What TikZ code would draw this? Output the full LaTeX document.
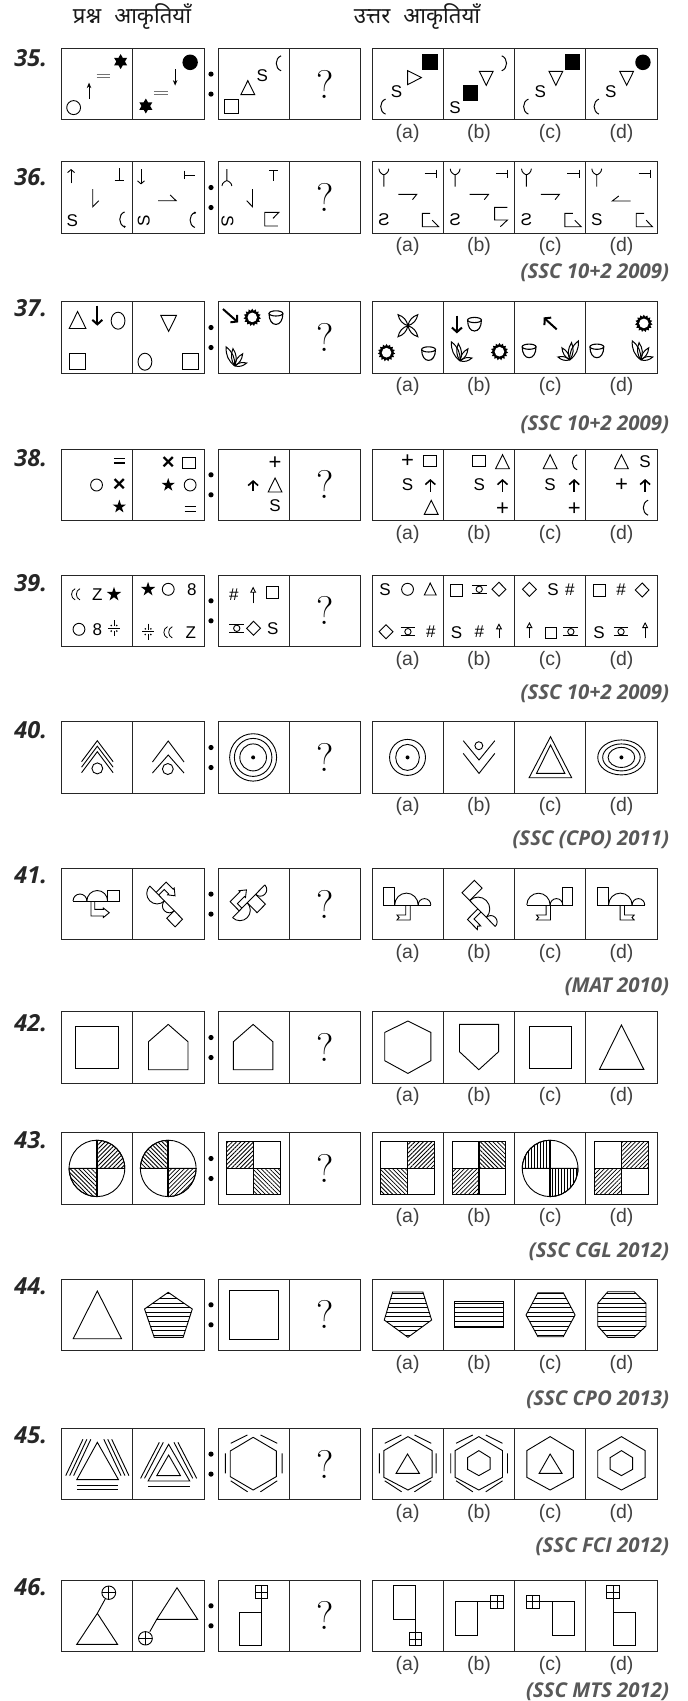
\documentclass[tikz,border=0pt]{standalone}
\usepackage{fontspec}
\usepackage{xcolor}
\usepackage{tikz}
\usetikzlibrary{shapes.geometric,arrows.meta,positioning,calc,patterns.meta}
\newfontfamily\hindifont[Script=Devanagari]{Noto Sans}
\newfontfamily\sansfont{Liberation Sans}
\newfontfamily\numfont{Open Sans}
\newcounter{glc}
\newcommand{\gl}[4][]{\stepcounter{glc}\node[glyph,#1] (g\arabic{glc}) at (#2,#3) {#4};}
\newcommand{\bsym}[3]{\gl{#1}{#2}{\fontsize{22}{22}\selectfont\bfseries #3}}
\newcommand{\psym}[3]{\gl{#1}{#2}{\fontsize{22}{22}\selectfont #3}}
\newcommand{\starf}[4]{\stepcounter{glc}\node[starmark,star#3,minimum size=#4pt] (g\arabic{glc}) at (#1,#2) {};}
\newcommand{\sunf}[2]{\stepcounter{glc}\node[sunmark] (g\arabic{glc}) at (#1,#2) {};\fill[white] (#1,#2) circle[radius=4.8pt];}
\newcommand{\incell}[2]{\begin{scope}[shift={(#1.north west)},xscale=.987]#2\end{scope}}
\newcommand{\tri}[4][]{\draw[shift={(#2,#3)},#1] ({-#4/2},{#4/2})--(0,{-#4/2})--({#4/2},{#4/2})--cycle;}
\newcommand{\sq}[5][]{\draw[#1] ({#2-#4/2},{#3-#5/2}) rectangle ++(#4,#5);}
\newcommand{\diam}[3]{\draw ({#1-#3/2},#2)--(#1,{#2-#3/2})--({#1+#3/2},#2)--(#1,{#2+#3/2})--cycle;}
\newcommand{\ring}[5][]{\draw[#1] (#2,#3) ellipse[x radius=#4pt,y radius=#5pt];}
\newcommand{\dotm}[2]{\fill (#1,#2) circle[radius=2pt];}
\newcommand{\eqm}[4]{\draw ({#1-#3/2},{#2-#4/2})--({#1+#3/2},{#2-#4/2}) ({#1-#3/2},{#2+#4/2})--({#1+#3/2},{#2+#4/2});}
\newcommand{\cres}[3][]{\draw[shift={(#2,#3)},line width=1pt,#1] (3,-7.5) .. controls (-3.5,-5) and (-3.5,5) .. (3,7.5);}
\newcommand{\dblcres}[2]{\begin{scope}[shift={(#1,#2)},scale=.75]\cres[line width=.8pt]{-4}{0}\cres[line width=.8pt]{2.5}{0}\end{scope}}
\newcommand{\bobb}[2]{\draw ({#1-7.5},{#2-4})--({#1+7.5},{#2-4}) ({#1-7.5},{#2+4})--({#1+7.5},{#2+4});\ring{#1}{#2}{3.2}{3.2}}
\newcommand{\snowf}[2]{\draw ({#1-6},#2)--({#1+6},#2) (#1,{#2-8})--(#1,{#2-2.2}) (#1,{#2+2.2})--(#1,{#2+8});\foreach \dx/\dy in {-2.8/-2.8,2.8/-2.8,-2.8/2.8,2.8/2.8}{\fill ({#1+\dx},{#2+\dy}) circle[radius=.9pt];}}
\newcommand{\bowl}[2]{\draw[shift={(#1,#2)},line width=1.1pt] (-7,-4) .. controls (-7,3) and (-4,7) .. (0,7) .. controls (4,7) and (7,3) .. (7,-4);\ring[line width=1.1pt]{#1}{#2-4}{7}{2.6}}
\newcommand{\plant}[3][]{\begin{scope}[shift={(#2,#3)},scale=1.15,#1]\foreach \tx/\ty in {-7.5/-16.5,-1.5/-15,7/-10.5,10.5/-2.5}{\draw[line width=1pt] (0,8) to[bend left=28] (\tx,8+\ty) to[bend left=28] (0,8);}\end{scope}}
\newcommand{\crossleaf}[2]{\foreach \tx/\ty in {-10/-11,10/-11,-10/11,10/11}{\draw[line width=1pt,shift={(#1,#2)}] (0,0) to[bend left=30] (\tx,\ty) to[bend left=30] (0,0);}}
\newcommand{\ytop}[1]{\draw (#1,25)--(#1,13) ({#1-5},7) .. controls ({#1-5},11) and ({#1-1},13) .. (#1,13) .. controls ({#1+1},13) and ({#1+5},11) .. ({#1+5},7);}
\newcommand{\tdash}{\draw (53.3,11.7)--(65.3,11.7) (65.3,8)--(65.3,16);}
\newcommand{\flaga}{\draw (59,51.7)--(51,51.7)--(51,65)--(67.5,65)--(61,58.5);}
\newcommand{\semi}[2]{\draw (#1,0) arc[start angle=180,end angle=0,radius=#2pt];}
\newcommand{\linkarw}[3]{\draw (#1,0)--(#1,#3)--({#1+#2-6},#3)--({#1+#2-6},{#3+1.5})--({#1+#2},{#3-3.3})--({#1+#2-6},{#3-8})--({#1+#2-6},{#3-6.6})--({#1+3.8},{#3-6.6})--({#1+3.8},0);}
\newcommand{\ribb}[4]{\draw (#1,0)--(#1,15)--(#3,15)--(#4,12.5)--(#3,10)--(#2,10)--(#2,0);}
\newcommand{\perch}{\draw (0,0)--(47.6,0) (0,0) rectangle (11,-17.7);\semi{11}{11.9}\semi{34.8}{6.4}}
\newcommand{\cqd}[4]{\draw[#4] (#1,#2) -- ++(#3:28.2pt) arc[start angle=#3,end angle=#3+90,radius=28.2pt] -- cycle;}
\newcommand{\roundq}[4]{\ring{36}{35.7}{28.2}{28.2}\cqd{36}{35.7}{#1}{#2}\cqd{36}{35.7}{#3}{#4}\draw[line width=1.6pt] (7.8,35.7)--(64.2,35.7) (36,7.5)--(36,63.9);}
\newcommand{\squareq}[5]{\begin{scope}[xshift=#5pt]\path[#1] (9,9) rectangle (36,35.7);\path[#2] (36,9) rectangle (63,35.7);\path[#3] (9,35.7) rectangle (36,62);\path[#4] (36,35.7) rectangle (63,62);\draw (9,9) rectangle (63,62);\draw[line width=1.6pt] (9,35.7)--(63,35.7) (36,9)--(36,62);\end{scope}}
\newcommand{\stripes}[1]{\begin{scope}\clip #1;\foreach \yy in {1,5.6,...,71}{\draw (0,\yy)--(72,\yy);}\end{scope}\draw #1;}
\newcommand{\hexa}[3]{\draw ({(#1+#2)/2},8.3)--(#2,22.3)--(#2,49)--({(#1+#2)/2},61.7)--(#1,49)--(#1,22.3)--cycle;}
\newcommand{\hexlines}{\draw (12.9,15)--(29.8,6.7) (43.1,6.7)--(60,15) (65,25)--(65,45) (7.5,25)--(7.5,45) (12.9,52.5)--(30,63.5) (43,63.5)--(60,52.5);}
\newcommand{\hexin}[1]{\draw (#1,22.3)--({#1+11.4},29.3)--({#1+11.4},41)--(#1,47.3)--({#1-11.4},41)--({#1-11.4},29.3)--cycle;}
\newcommand{\gridsq}[2]{\sq{#1}{#2}{13}{13}\draw ({#1-6.5},#2)--({#1+6.5},#2) (#1,{#2-6.5})--(#1,{#2+6.5});}
\newcommand{\crossc}[2]{\ring{#1}{#2}{7}{6.7}\draw ({#1-7},#2)--({#1+7},#2) (#1,{#2-6.7})--(#1,{#2+6.7});}
\newcommand{\chev}[4]{\draw ({#1-#3},{#2+#4})--(#1,#2)--({#1+#3},{#2+#4});}
\begin{document}
\begin{tikzpicture}[
  x=1pt,y=-1pt,
  line width=.9pt,
  cellbox/.style={draw=black!85, line width=1pt, minimum width=71.3pt, minimum height=71.6pt,
                  inner sep=0pt, outer sep=0pt, font=\fontsize{40}{40}\selectfont},
  optlab/.style={font=\sansfont\fontsize{19.5}{20}\selectfont, text=black!75, inner sep=0pt},
  qnum/.style={font=\numfont\bfseries\itshape\fontsize{23.5}{24}\selectfont, text=black!85, anchor=west, inner sep=0pt},
  srclab/.style={font=\numfont\bfseries\itshape\fontsize{20.4}{21}\selectfont, text=black!65, anchor=east, inner sep=0pt},
  headlab/.style={font=\hindifont\fontsize{22.2}{24}\selectfont, text=black!90, inner sep=0pt},
  glyph/.style={font=\sansfont\fontsize{17}{17}\selectfont, inner sep=0pt},
  starmark/.style={star, fill, inner sep=0pt},
  star5/.style={star points=5, star point ratio=2.6},
  star6/.style={star points=6, star point ratio=1.73},
  sunmark/.style={star, star points=15, star point ratio=1.3, fill, inner sep=0pt, minimum size=17.5pt},
  thinarw/.style={-{Stealth[length=5.5pt,width=4.5pt]}},
  stickarw/.style={-{Straight Barb[length=3pt,width=7pt]}},
  boldarw/.style={line width=2pt, -{Straight Barb[length=4.5pt,width=10pt]}},
  openarw/.style={-{Triangle[open,length=6pt,width=6pt]}},
  hne/.style={pattern={Lines[angle=45,distance=3pt,line width=.8pt]}},
  hnw/.style={pattern={Lines[angle=-45,distance=3pt,line width=.8pt]}},
  hvt/.style={pattern={Lines[angle=90,distance=3pt,line width=.7pt]}},
  blank/.style={}
]
  \useasboundingbox (0,0) rectangle (688,1701);
  \node[headlab] (headq) at (132,17) {प्रश्न\hspace{13pt}आकृतियाँ};
  \node[headlab] (heada) at (417,17) {उत्तर\hspace{13pt}आकृतियाँ};
  \foreach \n/\ytopv/\ynum in {35/48.3/58.3,36/161.7/176.7,37/301.7/307.7,38/449/458.3,39/575/583,40/721.7/730,
      41/868.3/875,42/1011.7/1023,43/1132.7/1140,44/1279/1286.7,45/1428.3/1435,46/1580/1586.7}{
    \node[cellbox,anchor=north west] (r\n-q1) at (61.4,\ytopv) {};
    \node[cellbox,right=0pt of r\n-q1] (r\n-q2) {};
    \node[cellbox,right=14pt of r\n-q2] (r\n-q3) {};
    \node[cellbox,right=0pt of r\n-q3] (r\n-q4) {?};
    \node[cellbox,right=11.4pt of r\n-q4] (r\n-a) {};
    \node[cellbox,right=0pt of r\n-a] (r\n-b) {};
    \node[cellbox,right=0pt of r\n-b] (r\n-c) {};
    \node[cellbox,right=0pt of r\n-c] (r\n-d) {};
    \foreach \o in {a,b,c,d}{\node[optlab,below=4pt of r\n-\o] (l\n-\o) {(\o)};}
    \node[qnum] (num\n) at (14,\ynum) {\n.};
    \fill ($(r\n-q2.east)!.5!(r\n-q3.west)+(0,-10)$) circle[radius=2.6pt];
    \fill ($(r\n-q2.east)!.5!(r\n-q3.west)+(0,10)$) circle[radius=2.6pt];
  }
  \foreach \n/\y/\t in {36/272.7/{(SSC 10+2 2009)},37/424.3/{(SSC 10+2 2009)},39/693.3/{(SSC 10+2 2009)},
      40/840/{(SSC (CPO) 2011)},41/986.7/{(MAT 2010)},43/1251.7/{(SSC CGL 2012)},44/1400/{(SSC CPO 2013)},
      45/1546.7/{(SSC FCI 2012)},46/1691.7/{(SSC MTS 2012)}}{
    \node[srclab] (src\n) at (669.5,\y) {\t};
  }

  % row 35
  \incell{r35-q1}{\ring{12.4}{59.3}{7}{7}\draw[thinarw] (28,50.7)--(28,34.3);\begin{scope}[black!55]\eqm{42.7}{27.3}{14}{3}\end{scope}\starf{60}{13.3}{6}{15}}
  \incell{r35-q2}{\starf{13.3}{57.7}{6}{15}\begin{scope}[black!55]\eqm{28.4}{44.7}{14}{3}\end{scope}\draw[thinarw] (43,21)--(43,37.3);\fill (58.2,14) circle[radius=7.8pt];}
  \incell{r35-q3}{\sq{13.8}{58}{14}{14}\tri{30.2}{39.3}{14}\gl{45}{27.3}{S}\cres{60.9}{15}}
  \incell{r35-a}{\cres{10.7}{58.3}\gl{24.9}{43.3}{S}\tri[rotate=-90]{43.1}{29.3}{14}\sq[fill]{58.7}{14}{14.5}{15}}
  \incell{r35-b}{\cres[xscale=-1]{62.2}{15}\tri[rotate=180]{43.5}{30}{14}\sq[fill]{27.5}{45}{14.5}{15}\gl{12}{59}{S}}
  \incell{r35-c}{\cres{11}{58.3}\gl{26}{43.3}{S}\tri[rotate=180]{41.8}{30}{14}\sq[fill]{58.7}{14}{14.5}{15}}
  \incell{r35-d}{\cres{10.2}{58.3}\gl{25.3}{43.3}{S}\tri[rotate=180]{41.3}{30}{14}\fill (57.8,14) circle[radius=7.8pt];}

  % row 36
  \incell{r36-q1}{\draw[stickarw] (9.8,21.7)--(9.8,7.3);\draw (58.9,6.7)--(58.9,19) (53.9,19)--(63.9,19);\draw (31.8,27.3)--(31.8,45)--(37.8,39);\gl{11.1}{59.3}{S}\cres{61}{57.7}\fill (64,65) circle[radius=1.2pt];}
  \incell{r36-q2}{\draw[stickarw] (8.4,7.7)--(8.4,22.7);\draw (52.3,9)--(52.3,17.7) (52.3,13.4)--(63,13.4);\draw (25.7,39)--(44,39)--(38,33.3);\gl[rotate=90]{11.3}{59.3}{S}\cres{60}{58.3}\fill (63,51) circle[radius=1.2pt];}
  \incell{r36-q3}{\draw (9,7.3)--(9,19) (4,24.3) .. controls (4,21) and (8,19) .. (9,19) .. controls (10,19) and (14,21) .. (14,24.3);\draw (51.7,8.3)--(60.7,8.3) (56.2,8.3)--(56.2,19);\draw (35,27.3)--(35,45)--(29,39);\gl[rotate=-90]{9.7}{59.3}{S}\draw (55.7,56.7)--(61.7,50.7)--(47.4,50.7)--(47.4,64.3)--(60.7,64.3);}
  \incell{r36-a}{\ytop{12}\tdash\draw (26.7,32.7)--(45.3,32.7)--(41,38);\gl[xscale=-1]{12}{58.3}{S}\flaga}
  \incell{r36-b}{\ytop{12}\tdash\draw (26.7,32.7)--(45.8,32.7)--(41.5,38);\gl[xscale=-1]{12}{58.3}{S}\draw (65,45.7)--(52,45.7)--(52,58.3)--(65,58.3)--(57.8,65);}
  \incell{r36-c}{\ytop{12}\tdash\draw (26.7,32.7)--(45.3,32.7)--(41,38);\gl[xscale=-1]{12}{58.3}{S}\flaga}
  \incell{r36-d}{\ytop{11}\tdash\draw (45.3,39.3)--(26.7,39.3)--(33.3,34.3);\gl{11}{58.3}{S}\flaga}

  % row 37
  \incell{r37-q1}{\tri{16.4}{18.3}{17}\draw[boldarw] (36.4,4)--(36.4,24);\ring{57.4}{19}{7}{8.5}\sq{16.4}{59.7}{16}{16}}
  \incell{r37-q2}{\tri[rotate=180]{36.4}{21.7}{16}\ring{12.4}{60}{7}{8.5}\sq{58.2}{59.7}{16}{16}}
  \incell{r37-q3}{\draw[boldarw] (5,7.3)--(20.4,20.7);\sunf{34.7}{15.7}\bowl{58.7}{15.7}\plant{16.9}{55}}
  \incell{r37-a}{\crossleaf{36.4}{24}\sunf{14.7}{51}\bowl{57.3}{51.7}}
  \incell{r37-b}{\draw[boldarw] (13.8,14)--(13.8,31.7);\bowl{31.6}{22.3}\plant{16.9}{50}\sunf{56.9}{50}}
  \incell{r37-c}{\draw[boldarw] (42.7,27.7)--(29.3,15.7);\bowl{14.7}{49}\plant[xscale=-1]{56}{49}}
  \incell{r37-d}{\sunf{58.7}{21.7}\bowl{11.1}{49}\plant{55.6}{49}}

  % row 38
  \incell{r38-q1}{\begin{scope}[line width=1.1pt]\eqm{58.7}{11.7}{11}{4.5}\end{scope}\ring{35.6}{36}{6}{6}\bsym{58.7}{36}{×}\starf{58.7}{57.7}{5}{14}}
  \incell{r38-q2}{\bsym{36}{13.7}{×}\sq{56.9}{13.7}{13}{11}\starf{36}{36}{5}{14}\ring{58.2}{36}{6}{6}\begin{scope}[line width=1.1pt]\eqm{58.2}{60}{11}{4.5}\end{scope}}
  \incell{r38-q3}{\psym{57.8}{14.3}{+}\draw[boldarw,line width=1.6pt] (35.6,42)--(35.6,31);\tri{57.8}{36}{14}\gl{57.8}{56.7}{S}}
  \incell{r38-a}{\psym{36}{11.7}{+}\sq{59.1}{11.7}{13}{11}\gl{36}{36}{S}\draw[boldarw,line width=1.6pt] (59.1,42.7)--(59.1,30);\tri{60}{58.3}{14}}
  \incell{r38-b}{\sq{36.4}{11.7}{13}{11}\tri{60}{12.7}{14}\gl{36.4}{36}{S}\draw[boldarw,line width=1.6pt] (60,42.7)--(60,30);\psym{60}{60.3}{+}}
  \incell{r38-c}{\tri{36}{12.7}{14}\cres{60.4}{13.3}\gl{36}{36}{S}\draw[boldarw,line width=1.6pt] (60.4,42.7)--(60.4,30);\psym{60.4}{60.3}{+}}
  \incell{r38-d}{\tri{36}{12.7}{14}\gl{60}{12.7}{S}\psym{36}{36}{+}\draw[boldarw,line width=1.6pt] (60,42.7)--(60,30);\cres{60}{58.7}}

  % row 39
  \incell{r39-q1}{\dblcres{14.7}{19.3}\gl{36.4}{19.3}{Z}\starf{53.3}{19.3}{5}{15}\ring{17.8}{54.3}{6}{6}\gl{36.4}{54.3}{8}\snowf{53.3}{53.3}}
  \incell{r39-q2}{\starf{15.6}{14.3}{5}{15}\ring{36}{14.3}{6}{6}\gl{60}{14.3}{8}\snowf{15.6}{56.7}\dblcres{36}{57.3}\gl{59}{57.3}{Z}}
  \incell{r39-q3}{\gl{16}{19.3}{\#}\draw[openarw] (35.6,28.3)--(35.6,11.7);\sq{55}{17.3}{12}{12}\bobb{19}{53.3}\diam{36}{53.3}{14}\gl{55.6}{54}{S}}
  \incell{r39-a}{\gl{13.3}{14.3}{S}\ring{36}{14.3}{6}{6}\tri{59}{14}{12}\diam{14.2}{56.7}{14}\bobb{36.4}{56.7}\gl{59.6}{56.7}{\#}}
  \incell{r39-b}{\sq{13.3}{15}{12}{12}\bobb{36.4}{14.3}\diam{56.4}{14.3}{14}\gl{13.3}{57.3}{S}\gl{36.4}{56.7}{\#}\draw[openarw] (56.4,63.3)--(56.4,48.3);}
  \incell{r39-c}{\diam{15}{14.3}{14}\gl{39}{14.3}{S}\gl{56}{14.3}{\#}\draw[openarw] (15,63)--(15,47);\sq{36.4}{58.3}{11}{11}\bobb{57}{56.7}}
  \incell{r39-d}{\sq{13.3}{15}{12}{12}\gl{35.6}{15}{\#}\diam{57}{15}{14}\gl{13.3}{57.3}{S}\bobb{35.6}{56.7}\draw[openarw] (60,63.3)--(60,47);}

  % row 40
  \incell{r40-q1}{\chev{36.4}{19}{16}{21}\chev{36.4}{24.5}{16}{21}\chev{36.4}{30}{16}{21}\ring{36.4}{46.7}{5.5}{5.5}}
  \incell{r40-q2}{\chev{36}{19.3}{16}{21}\chev{36}{33.3}{16}{18}\ring{35.6}{47.3}{5.5}{5.5}}
  \incell{r40-q3}{\ring{35.6}{35.7}{23.8}{23.7}\ring{35.6}{35.7}{19}{19}\ring{35.6}{35.7}{13.5}{13.5}\dotm{35.6}{35.7}}
  \incell{r40-a}{\ring{36}{35.7}{18.2}{18}\ring{36}{35.7}{12}{13}\dotm{36}{35.7}}
  \incell{r40-b}{\ring{36}{24}{4}{4}\chev{36.2}{38.3}{16}{-19.3}\chev{36.2}{51.7}{16}{-20}}
  \incell{r40-c}{\draw (36.4,15)--(57.8,56)--(14.7,56)--cycle;\draw (36.4,23.3)--(51,51.7)--(22.2,51.7)--cycle;}
  \incell{r40-d}{\ring{36}{35.7}{24}{17.5}\ring{36}{35.7}{19}{13.5}\ring{36}{35.7}{13.5}{10}\dotm{36}{35.7}}

  % row 41
  \incell{r41-q1}{\begin{scope}[shift={(11.8,32.7)}]\draw (0,0)--(46.7,0) (35,0) rectangle (46.7,-10.7);\semi{0}{7}\semi{14}{10.5}\linkarw{18.2}{18.5}{15}\end{scope}}
  \incell{r41-q2}{\begin{scope}[shift={(17.3,17.7)},rotate=-45,yscale=-1]\draw (0,0)--(47,0) (35,0) rectangle (47,-10.7);\semi{0}{10.5}\semi{21}{7}\linkarw{9}{16}{14.5}\end{scope}}
  \incell{r41-q3}{\begin{scope}[shift={(14.8,49.3)},rotate=45,yscale=-1]\draw (0,0)--(46.2,0) (21,0) rectangle (33,-14);\semi{0}{10.5}\semi{33}{6.6}\linkarw{9.5}{20}{13}\end{scope}}
  \incell{r41-a}{\begin{scope}[shift={(12,36.7)}]\perch\ribb{26.7}{22.2}{13.3}{15.5}\end{scope}}
  \incell{r41-b}{\begin{scope}[shift={(19,24.5)},rotate=-45]\perch\ribb{22.7}{27.1}{36.9}{34.7}\end{scope}}
  \incell{r41-c}{\begin{scope}[shift={(12.4,36.7)}]\draw (0,0)--(46.7,0) (36.5,0) rectangle (46.7,-17.7);\semi{0}{11.8}\semi{23.6}{6.4}\ribb{24}{19.6}{9.8}{12}\end{scope}}
  \incell{r41-d}{\begin{scope}[shift={(12,36.7)}]\perch\ribb{22.7}{27.1}{36.9}{34.7}\end{scope}}

  % row 42
  \incell{r42-q1}{\draw (14.7,14.3) rectangle (57.8,56.7);}
  \incell{r42-q2}{\draw (36,12.7)--(56,30)--(56,58)--(16,58)--(16,30)--cycle;}
  \incell{r42-q3}{\draw (35.6,12.7)--(55.6,30)--(55.6,58)--(15.6,58)--(15.6,30)--cycle;}
  \incell{r42-a}{\draw (36.4,9.3)--(59.6,20.7)--(59.6,49)--(36.4,61.7)--(12.9,49)--(12.9,20.7)--cycle;}
  \incell{r42-b}{\draw (16.4,12.7)--(56,12.7)--(56,40)--(36,58)--(16.4,40)--cycle;}
  \incell{r42-c}{\draw (15,15) rectangle (57.8,56.7);}
  \incell{r42-d}{\draw (36,13.3)--(58.7,57.7)--(13.8,57.7)--cycle;}

  % row 43
  \incell{r43-q1}{\roundq{0}{hne}{180}{hnw}}
  \incell{r43-q2}{\roundq{90}{hnw}{270}{hne}}
  \incell{r43-q3}{\squareq{hne}{blank}{blank}{hnw}{0}}
  \incell{r43-a}{\squareq{blank}{hne}{hnw}{blank}{0}}
  \incell{r43-b}{\squareq{blank}{hnw}{hne}{blank}{0}}
  \incell{r43-c}{\roundq{90}{hvt}{270}{hvt}}
  \incell{r43-d}{\squareq{blank}{hne}{hne}{blank}{0}}

  % row 44
  \incell{r44-q1}{\draw (36.4,12)--(60.9,59.7)--(12,59.7)--cycle;}
  \incell{r44-q2}{\stripes{(36,13.3)--(60.4,30)--(51.1,58.3)--(21.8,58.3)--(12,30)--cycle}}
  \incell{r44-q3}{\draw (11.1,11) rectangle (61.3,60.3);}
  \incell{r44-a}{\stripes{(20.9,13)--(51.6,13)--(60.4,41)--(36.4,58.3)--(12.4,41)--cycle}}
  \incell{r44-b}{\stripes{(11.1,22.7) rectangle (61.3,48.3)}}
  \incell{r44-c}{\stripes{(23.6,13.7)--(49.3,13.7)--(61.3,36)--(49.3,57.7)--(23.6,57.7)--(11.6,36)--cycle}}
  \incell{r44-d}{\stripes{(22.2,12.7)--(48.9,12.7)--(60.9,24.3)--(60.9,47)--(48.9,58.3)--(22.2,58.3)--(12,47)--(12,24.3)--cycle}}

  % row 45
  \incell{r45-q1}{\draw (36.4,14)--(57.8,51.3)--(15.6,51.3)--cycle;\foreach \dx in {0,4,8}{\draw ({29.8-\dx},11)--({12.4-\dx},47.3) ({43+\dx},11)--({60.4+\dx},47.3);}\draw (15.6,56.7)--(57.8,56.7) (15.6,61)--(57.8,61);}
  \incell{r45-q2}{\draw (36.4,16)--(57.8,52.7)--(15.6,52.7)--cycle;\draw (36.4,26.7)--(48.4,47.3)--(24.4,47.3)--cycle;\foreach \dx in {0,4}{\draw ({31-\dx},14)--({12-\dx},50) ({41.8+\dx},14)--({60.8+\dx},50);}\draw (15.6,58)--(57.8,58);}
  \incell{r45-q3}{\draw (35.6,9)--(59.1,22.7)--(59.1,48.3)--(35.6,61.7)--(12.4,48.3)--(12.4,22.7)--cycle;\hexlines}
  \incell{r45-a}{\hexa{12}{60.9}{}\hexlines\draw (36,25.7)--(48,45)--(24.4,45)--cycle;}
  \incell{r45-b}{\hexa{12}{60}{}\hexlines\hexin{36}}
  \incell{r45-c}{\hexa{12.4}{59.6}{}\draw (36,25.7)--(48,45)--(24.9,45)--cycle;}
  \incell{r45-d}{\hexa{12}{60}{}\hexin{36}}

  % row 46
  \incell{r46-q1}{\draw (36.4,33.3)--(56.9,64.3)--(15.6,64.3)--cycle;\draw (36.4,33.3)--(44.4,19);\crossc{48}{12.7}}
  \incell{r46-q2}{\draw (44.9,7.7)--(65.8,39.3)--(24.4,39.3)--cycle;\draw (24.4,39.3)--(17.3,51.7);\crossc{12.9}{58.3}}
  \incell{r46-q3}{\draw (21.8,32) rectangle (44,65.7);\draw (44,32)--(44,18.5);\gridsq{44}{12}}
  \incell{r46-a}{\draw (21.8,5.3) rectangle (44,39.3);\draw (44,39.3)--(44,52.8);\gridsq{44}{59.3}}
  \incell{r46-b}{\draw (12,21.7) rectangle (34.2,55.7);\draw (34.2,21.7)--(48.2,21.7);\gridsq{54.7}{21.7}}
  \incell{r46-c}{\draw (38.2,21.7) rectangle (60.9,55.7);\draw (38.2,21.7)--(24.7,21.7);\gridsq{18.2}{21.7}}
  \incell{r46-d}{\draw (27.6,32) rectangle (49.8,65.7);\draw (27.6,32)--(27.6,18.5);\gridsq{27.6}{12}}
\end{tikzpicture}
\end{document}
